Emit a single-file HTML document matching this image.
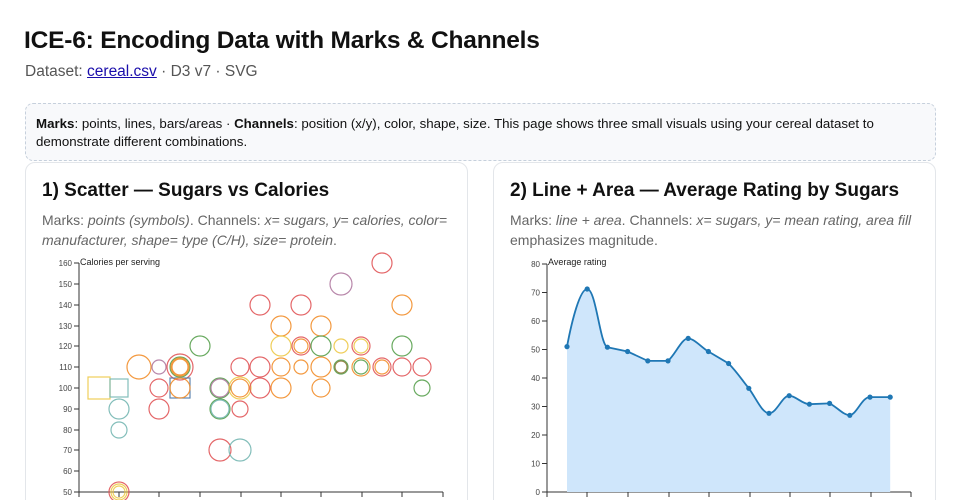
<!DOCTYPE html>
<html style="overflow:hidden;height:500px"><head><meta charset="utf-8"><style>
body{margin:0;width:960px;height:500px;overflow:hidden;background:#fff;font-family:"Liberation Sans",sans-serif;color:#111;position:relative}
.a{position:absolute;white-space:nowrap}
h1{position:absolute;left:24px;top:27px;margin:0;font-size:24.5px;font-weight:bold;letter-spacing:-0.2px}
.sub{left:25px;top:63px;font-size:15.5px;color:#555}
.sub a{color:#1a0dab;text-decoration:underline}
.info{position:absolute;left:25px;top:103px;width:909px;height:56px;border:1px dashed #c6d0dc;border-radius:8px;background:#f8f9fb}
.info div{position:absolute;left:10px;top:11px;font-size:13.3px;line-height:18px;width:890px}
.card{position:absolute;top:162px;width:441px;height:360px;border:1px solid #e3e6ea;border-radius:10px;background:#fff}
.card h2{position:absolute;left:16px;top:17px;margin:0;font-size:19px;font-weight:bold;white-space:nowrap}
.card p{position:absolute;left:16px;top:47px;margin:0;font-size:14px;line-height:20px;color:#666;width:415px}
svg{position:absolute;left:0;top:0}
</style></head><body>
<h1>ICE-6: Encoding Data with Marks &amp; Channels</h1>
<div class="a sub">Dataset: <a>cereal.csv</a> · D3 v7 · SVG</div>
<div class="info"><div><b>Marks</b>: points, lines, bars/areas · <b>Channels</b>: position (x/y), color, shape, size. This page shows three small visuals using your cereal dataset to demonstrate different combinations.</div></div>
<div class="card" style="left:25px"><h2>1) Scatter — Sugars vs Calories</h2><p>Marks: <i>points (symbols)</i>. Channels: <i>x= sugars, y= calories, color= manufacturer, shape= type (C/H), size= protein</i>.</p></div>
<div class="card" style="left:493px"><h2>2) Line + Area — Average Rating by Sugars</h2><p>Marks: <i>line + area</i>. Channels: <i>x= sugars, y= mean rating, area fill</i> emphasizes magnitude.</p></div>
<svg width="960" height="500" font-family="Liberation Sans,sans-serif">
<g stroke="#333" fill="none" stroke-width="1">
<path d="M79,263V492H443M79,492v5M119,492v5M159,492v5M200,492v5M241,492v5M281,492v5M321,492v5M362,492v5M402,492v5M443,492v5"/>
<path d="M74,263h5M74,284h5M74,305h5M74,326h5M74,346h5M74,367h5M74,388h5M74,409h5M74,430h5M74,450h5M74,471h5M74,492h5"/>
<path d="M547,264V492H911M547,492v5M587,492v5M628,492v5M669,492v5M709,492v5M750,492v5M790,492v5M830,492v5M871,492v5M911,492v5"/>
<path d="M542,264h5M542,292.5h5M542,321h5M542,349.5h5M542,378h5M542,406.5h5M542,435h5M542,463.5h5M542,492h5"/>
</g>
<g font-size="8" fill="#444" text-anchor="end">
<text x="72" y="266">160</text><text x="72" y="287">150</text><text x="72" y="308">140</text><text x="72" y="329">130</text><text x="72" y="349">120</text><text x="72" y="370">110</text><text x="72" y="391">100</text><text x="72" y="412">90</text><text x="72" y="433">80</text><text x="72" y="453">70</text><text x="72" y="474">60</text><text x="72" y="495">50</text>
<text x="540" y="267">80</text><text x="540" y="295.5">70</text><text x="540" y="324">60</text><text x="540" y="352.5">50</text><text x="540" y="381">40</text><text x="540" y="409.5">30</text><text x="540" y="438">20</text><text x="540" y="466.5">10</text><text x="540" y="495">0</text>
</g>
<text x="80" y="265" font-size="9" fill="#222">Calories per serving</text>
<text x="548" y="265" font-size="9" fill="#222">Average rating</text>
<g fill="none" stroke-width="1.2" stroke-opacity="0.9">
<rect x="88" y="377" width="22" height="22" stroke="#edc948"/>
<rect x="110" y="379" width="18" height="18" stroke="#76b7b2"/>
<circle cx="119" cy="409" r="10" stroke="#76b7b2"/><circle cx="119" cy="430" r="8" stroke="#76b7b2"/>
<circle cx="119" cy="492" r="10" stroke="#e15759"/><circle cx="119" cy="492" r="8" stroke="#edc948"/><circle cx="119" cy="492" r="6" stroke="#edc948"/>
<circle cx="139" cy="367" r="12" stroke="#f28e2b"/>
<circle cx="159" cy="367" r="7" stroke="#b07aa1"/><circle cx="159" cy="388" r="9" stroke="#e15759"/><circle cx="159" cy="409" r="10" stroke="#e15759"/>
<circle cx="180" cy="367" r="13" stroke="#e15759"/><circle cx="180" cy="367" r="10" stroke="#59a14f"/><circle cx="180" cy="367" r="9" stroke="#f28e2b"/><circle cx="180" cy="367" r="8" stroke="#f28e2b"/>
<rect x="170" y="378" width="20" height="20" stroke="#4e79a7"/><circle cx="180" cy="388" r="10" stroke="#f28e2b"/>
<circle cx="200" cy="346" r="10" stroke="#59a14f"/>
<circle cx="220" cy="388" r="10" stroke="#59a14f"/><circle cx="220" cy="388" r="9" stroke="#b07aa1"/>
<circle cx="220" cy="409" r="10" stroke="#59a14f"/><circle cx="220" cy="409" r="9" stroke="#76b7b2"/>
<circle cx="220" cy="450" r="11" stroke="#e15759"/>
<circle cx="240" cy="367" r="9" stroke="#e15759"/><circle cx="240" cy="388" r="11" stroke="#edc948"/><circle cx="240" cy="388" r="9" stroke="#f28e2b"/>
<circle cx="240" cy="409" r="8" stroke="#e15759"/><circle cx="240" cy="450" r="11" stroke="#76b7b2"/>
<circle cx="260" cy="305" r="10" stroke="#e15759"/><circle cx="260" cy="367" r="10" stroke="#e15759"/><circle cx="260" cy="388" r="10" stroke="#e15759"/>
<circle cx="281" cy="326" r="10" stroke="#f28e2b"/><circle cx="281" cy="346" r="10" stroke="#edc948"/><circle cx="281" cy="367" r="9" stroke="#f28e2b"/><circle cx="281" cy="388" r="10" stroke="#f28e2b"/>
<circle cx="301" cy="305" r="10" stroke="#e15759"/><circle cx="301" cy="346" r="9" stroke="#e15759"/><circle cx="301" cy="346" r="7" stroke="#f28e2b"/><circle cx="301" cy="367" r="7" stroke="#f28e2b"/>
<circle cx="321" cy="326" r="10" stroke="#f28e2b"/><circle cx="321" cy="346" r="10" stroke="#59a14f"/><circle cx="321" cy="367" r="10" stroke="#f28e2b"/><circle cx="321" cy="388" r="9" stroke="#f28e2b"/>
<circle cx="341" cy="284" r="11" stroke="#b07aa1"/><circle cx="341" cy="346" r="7" stroke="#edc948"/><circle cx="341" cy="367" r="7" stroke="#59a14f"/><circle cx="341" cy="367" r="6" stroke="#8a7a3a"/>
<circle cx="361" cy="346" r="9" stroke="#e15759"/><circle cx="361" cy="346" r="7" stroke="#edc948"/><circle cx="361" cy="367" r="9" stroke="#f28e2b"/><circle cx="361" cy="367" r="7" stroke="#59a14f"/>
<circle cx="382" cy="263" r="10" stroke="#e15759"/><circle cx="382" cy="367" r="9" stroke="#e15759"/><circle cx="382" cy="367" r="7" stroke="#f28e2b"/>
<circle cx="402" cy="305" r="10" stroke="#f28e2b"/><circle cx="402" cy="346" r="10" stroke="#59a14f"/><circle cx="402" cy="367" r="9" stroke="#e15759"/>
<circle cx="422" cy="367" r="9" stroke="#e15759"/><circle cx="422" cy="388" r="8" stroke="#59a14f"/>
</g>
<path fill="#cfe6fb" d="M567,492V346.6C572,320 580,289 587.2,289C596,289 600,345 607.4,347.2L627.6,351.5L647.8,360.9L668,360.9C675,355 682,338 688.2,338.4C695,339 702,348 708.4,351.5L728.6,363.5C737,372 742,380 748.8,388.3C756,398 762,413 769,413.3C777,413 782,396 789.2,395.7C796,396 802,404 809.4,404.2L829.6,403.4C837,407 843,415 849.8,415.3C857,414 862,397 870,397.1L890.2,397.1V492Z"/>
<path fill="none" stroke="#1f77b4" stroke-width="1.8" d="M567,346.6C572,320 580,289 587.2,289C596,289 600,345 607.4,347.2L627.6,351.5L647.8,360.9L668,360.9C675,355 682,338 688.2,338.4C695,339 702,348 708.4,351.5L728.6,363.5C737,372 742,380 748.8,388.3C756,398 762,413 769,413.3C777,413 782,396 789.2,395.7C796,396 802,404 809.4,404.2L829.6,403.4C837,407 843,415 849.8,415.3C857,414 862,397 870,397.1L890.2,397.1"/>
<g fill="#1f77b4">
<circle cx="567" cy="346.6" r="2.6"/><circle cx="587.2" cy="289" r="2.6"/><circle cx="607.4" cy="347.2" r="2.6"/><circle cx="627.6" cy="351.5" r="2.6"/><circle cx="647.8" cy="360.9" r="2.6"/><circle cx="668" cy="360.9" r="2.6"/><circle cx="688.2" cy="338.4" r="2.6"/><circle cx="708.4" cy="351.5" r="2.6"/><circle cx="728.6" cy="363.5" r="2.6"/><circle cx="748.8" cy="388.3" r="2.6"/><circle cx="769" cy="413.3" r="2.6"/><circle cx="789.2" cy="395.7" r="2.6"/><circle cx="809.4" cy="404.2" r="2.6"/><circle cx="829.6" cy="403.4" r="2.6"/><circle cx="849.8" cy="415.3" r="2.6"/><circle cx="870" cy="397.1" r="2.6"/><circle cx="890.2" cy="397.1" r="2.6"/>
</g>
</svg>
</body></html>
